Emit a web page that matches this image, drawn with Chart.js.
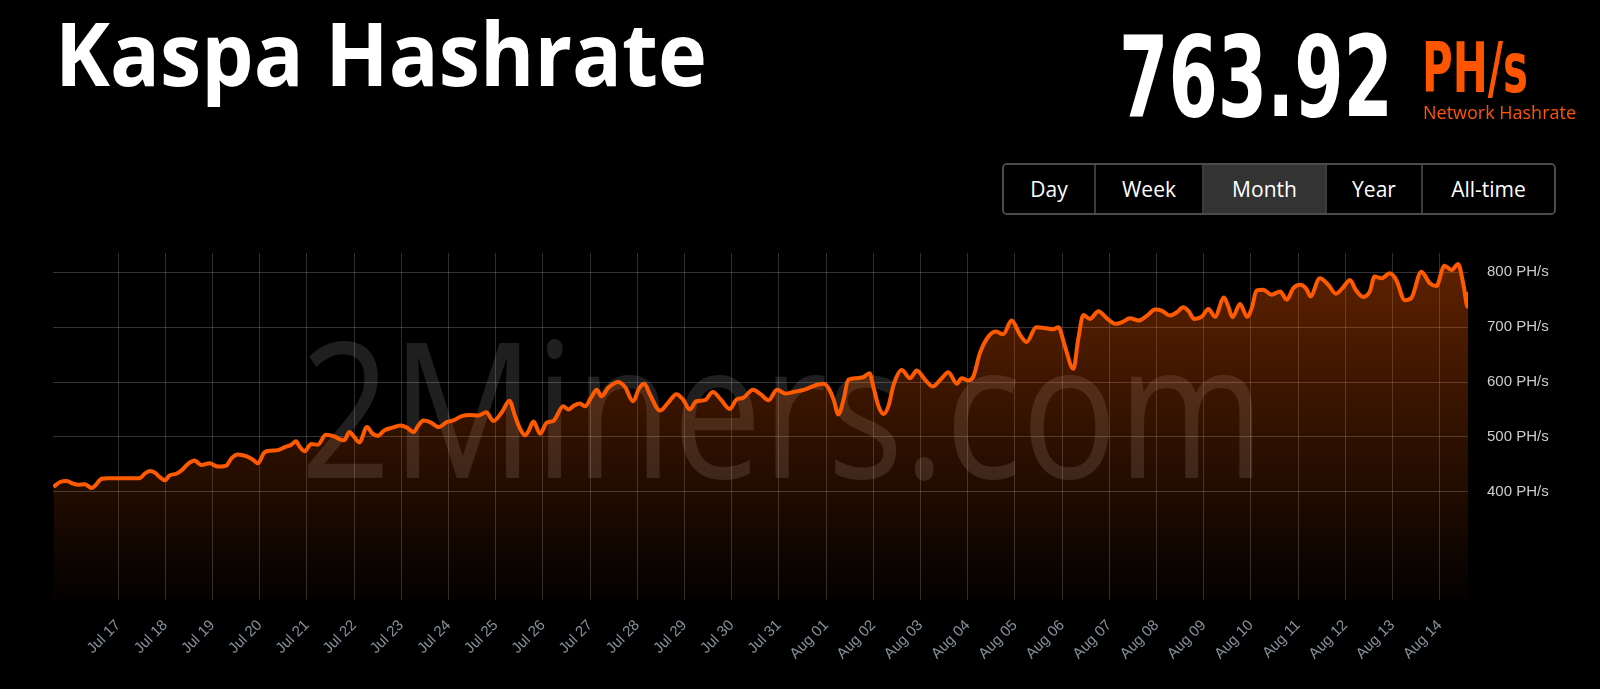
<!DOCTYPE html>
<html>
<head>
<meta charset="utf-8">
<title>Kaspa Hashrate</title>
<script src="https://cdn.jsdelivr.net/npm/chart.js@4.4.1/dist/chart.umd.min.js"></script>
<style>
  html, body { margin: 0; padding: 0; background: #000; }
  body { width: 1600px; height: 689px; position: relative; overflow: hidden; font-family: "Open Sans", sans-serif; }
  .txt { position: absolute; white-space: nowrap; line-height: 1; transform-origin: 0 0; }
  #watermark { color: rgba(255, 255, 255, 0.12); font-size: 189px; font-weight: 400; z-index: 0; }
  #chartBox { position: absolute; left: 0; top: 0; width: 1600px; height: 689px; z-index: 1; }
  #title { color: #fff; font-weight: 700; font-size: 87px; z-index: 2; }
  #rate { color: #fff; font-family: "Liberation Sans Narrow", "DejaVu Sans Condensed", "Liberation Sans", sans-serif; font-weight: 700; font-size: 113px; z-index: 2; }
  #unit { color: #ff5500; font-family: "Liberation Sans Narrow", "DejaVu Sans Condensed", "Liberation Sans", sans-serif; font-weight: 700; font-size: 70px; z-index: 2; }
  #subtitle { color: #ff5500; font-size: 19px; z-index: 2; }
  #ranges { position: absolute; left: 1002px; top: 163px; height: 52px; display: flex; border: 2px solid #4b4b4b; border-radius: 5px; box-sizing: border-box; overflow: hidden; z-index: 2; }
  .btn { display: flex; align-items: center; justify-content: center; color: #fff; font-size: 21px; border-right: 2px solid #3b3b3b; background: #000; box-sizing: border-box; }
  .btn:last-child { border-right: none; }
  .btn.active { background: #333; }
</style>
</head>
<body>
<div id="watermark" class="txt">2Miners.com</div>
<div id="chartBox"><canvas id="hashrateChart" width="1600" height="689"></canvas></div>
<div id="title" class="txt">Kaspa Hashrate</div>
<div id="rate" class="txt">763.92</div>
<div id="unit" class="txt">PH/s</div>
<div id="subtitle" class="txt">Network Hashrate</div>
<div id="ranges"></div>
<script>
// day offsets from Jul 17 00:00
const days = [
  -1.37, -1.23, -1.09, -0.95, -0.85, -0.71, -0.56, -0.49, -0.35, -0.21,
  0.07, 0.28, 0.46, 0.56, 0.67, 0.78, 0.88, 0.99, 1.09, 1.23,
  1.34, 1.48, 1.62, 1.76, 1.94, 2.11, 2.29, 2.40, 2.54, 2.71,
  2.85, 2.96, 3.10, 3.24, 3.38, 3.52, 3.67, 3.77, 3.84, 3.95,
  4.09, 4.23, 4.40, 4.58, 4.69, 4.79, 4.90, 5.00, 5.11, 5.27,
  5.39, 5.50, 5.64, 5.81,
  5.98, 6.12, 6.26, 6.36, 6.47, 6.61, 6.79, 6.96, 7.10, 7.28,
  7.46, 7.63, 7.80, 7.95, 8.13, 8.29, 8.41, 8.51, 8.62, 8.69,
  8.80, 8.94, 9.08, 9.22, 9.43, 9.54, 9.64, 9.78, 9.89, 10.03,
  10.14, 10.24, 10.38, 10.59, 10.74, 10.91, 11.04, 11.15, 11.27, 11.48,
  11.65, 11.83, 11.97, 12.11, 12.25, 12.43, 12.60, 12.78, 12.96, 13.10,
  13.24, 13.45,
  13.61, 13.78, 13.96, 14.14, 14.31, 14.49, 14.63, 14.81, 14.95, 15.05,
  15.16, 15.26, 15.37, 15.47, 15.65, 15.79, 15.92, 16.00, 16.11, 16.22,
  16.32, 16.43, 16.60, 16.78, 16.92, 17.10, 17.26, 17.45, 17.59, 17.77,
  17.87, 18.01, 18.12, 18.26, 18.44, 18.60, 18.75, 18.93, 19.11, 19.25,
  19.45, 19.67, 19.81, 19.92, 20.06, 20.24, 20.34, 20.45, 20.59, 20.77,
  20.95, 21.13, 21.27, 21.44, 21.62, 21.80, 21.97, 22.11, 22.29, 22.43,
  22.57, 22.68, 22.80, 22.96, 23.10, 23.24, 23.43, 23.52, 23.61, 23.77,
  23.92, 24.02, 24.12, 24.26, 24.44, 24.62, 24.76, 24.90, 25.04, 25.18,
  25.26, 25.46, 25.64, 25.80, 25.95, 26.10, 26.22, 26.38, 26.52, 26.62,
  26.77, 26.94, 27.08, 27.26, 27.40, 27.61, 27.79, 27.93, 28.10, 28.25,
  28.39, 28.51, 28.59, 28.60
];

// PH/s
const hashrate = [
  409, 418, 420, 415, 413, 414, 407, 411, 424, 425,
  425, 425, 425, 433, 438, 435, 427, 421, 430, 433,
  439, 451, 457, 449, 452, 446, 448, 461, 468, 465,
  459, 452, 472, 475, 476, 481, 486, 492, 483, 474,
  487, 486, 504, 501, 496, 494, 509, 500, 490, 518,
  506, 502, 512, 517,
  521, 517, 509, 521, 530, 527, 518, 527, 530, 538,
  540, 539, 545, 529, 545, 566, 538, 516, 503, 510,
  528, 506, 526, 529, 556, 550, 556, 561, 556, 573,
  586, 574, 589, 600, 591, 565, 589, 597, 577, 548,
  562, 578, 568, 550, 565, 567, 582, 567, 551, 568,
  571, 586,
  578, 567, 586, 579, 582, 585, 589, 595, 597, 589,
  568, 541, 568, 604, 607, 609, 616, 592, 556, 542,
  556, 595, 622, 607, 621, 604, 592, 607, 618, 597,
  607, 603, 610, 653, 683, 692, 687, 712, 686, 673,
  700, 698, 696, 700, 665, 624, 677, 722, 715, 729,
  716, 706, 709, 716, 712, 721, 732, 730, 721, 727,
  736, 729, 715, 719, 733, 719, 754, 738, 718, 742,
  719, 735, 767, 768, 759, 765, 750, 771, 777, 769,
  756, 789, 777, 761, 772, 786, 768, 755, 765, 792,
  789, 798, 786, 749, 753, 801, 780, 775, 812, 804,
  815, 774, 737, 764
];

const tickLabels = [
  "Jul 17", "Jul 18", "Jul 19", "Jul 20", "Jul 21", "Jul 22", "Jul 23", "Jul 24",
  "Jul 25", "Jul 26", "Jul 27", "Jul 28", "Jul 29", "Jul 30", "Jul 31",
  "Aug 01", "Aug 02", "Aug 03", "Aug 04", "Aug 05", "Aug 06", "Aug 07",
  "Aug 08", "Aug 09", "Aug 10", "Aug 11", "Aug 12", "Aug 13", "Aug 14"
];
const yTicks = [400, 500, 600, 700, 800];
const rangeButtons = ["Day", "Week", "Month", "Year", "All-time"];
const buttonWidths = [92, 108, 123, 96, 131];

// range selector
const ranges = document.getElementById("ranges");
rangeButtons.forEach((name, i) => {
    const b = document.createElement("div");
    b.className = "btn" + (name === "Month" ? " active" : "");
    b.style.width = buttonWidths[i] + "px";
    b.textContent = name;
    ranges.appendChild(b);
});

// put text at a given left / baseline, squeezed to a width
function place(id, left, baseline, width) {
    const el = document.getElementById(id);
    const probe = document.createElement("span");
    probe.style.cssText = "display:inline-block;width:0;height:0;vertical-align:baseline";
    el.appendChild(probe);
    el.style.left = left + "px";
    el.style.top = "0px";
    const box = el.getBoundingClientRect();
    const base = probe.getBoundingClientRect().top - box.top;
    el.style.top = (baseline - base) + "px";
    if (width) el.style.transform = "scaleX(" + (width / box.width) + ")";
}

document.fonts.ready.then(() => {
    place("title", 55, 86, 652);
    place("rate", 1119, 116, 274);
    place("unit", 1422, 92, 106);
    place("subtitle", 1423, 118.5, 153);
    place("watermark", 300, 478, 965);
});

Chart.defaults.font.family = "'Liberation Sans', Arial, sans-serif";

const ctx = document.getElementById("hashrateChart").getContext("2d");

new Chart(ctx, {
    type: "line",
    data: {
        datasets: [
            {
                data: days.map((d, i) => ({ x: d, y: hashrate[i] })),
                borderColor: "#ff5a00",
                borderWidth: 4,
                pointRadius: 0,
                cubicInterpolationMode: "monotone",
                fill: "start",
                backgroundColor: c => {
                    const area = c.chart.chartArea;
                    if (!area) return "rgba(255, 90, 0, 0.2)";
                    const g = c.chart.ctx.createLinearGradient(0, area.top, 0, area.bottom);
                    g.addColorStop(0, "rgba(255, 90, 0, 0.38)");
                    g.addColorStop(1, "rgba(255, 90, 0, 0.01)");
                    return g;
                }
            }
        ]
    },
    options: {
        responsive: false,
        animation: false,
        layout: {
            padding: { left: 53, top: 253, right: 0, bottom: 0 }
        },
        plugins: {
            legend: { display: false },
            tooltip: { enabled: false }
        },
        scales: {
            x: {
                type: "linear",
                min: -1.38,
                max: 28.6,
                afterBuildTicks: s => { s.ticks = tickLabels.map((_, i) => ({ value: i })); },
                afterFit: s => { s.height = 89.5; s.paddingLeft = 0; s.paddingRight = 0; },
                ticks: {
                    autoSkip: false,
                    minRotation: 45,
                    maxRotation: 45,
                    padding: 17,
                    color: "#86909a",
                    font: { size: 15 },
                    callback: v => tickLabels[v]
                },
                grid: { color: "rgba(255, 255, 255, 0.18)", drawTicks: false },
                border: { display: false }
            },
            y: {
                position: "right",
                min: 204,
                max: 835,
                afterBuildTicks: s => { s.ticks = yTicks.map(v => ({ value: v })); },
                afterFit: s => { s.width = 132; },
                ticks: {
                    padding: 19,
                    color: "#cccccc",
                    font: { size: 15 },
                    callback: v => v + " PH/s"
                },
                grid: { color: "rgba(255, 255, 255, 0.2)", drawTicks: false },
                border: { display: false }
            }
        }
    }
});
</script>
</body>
</html>
